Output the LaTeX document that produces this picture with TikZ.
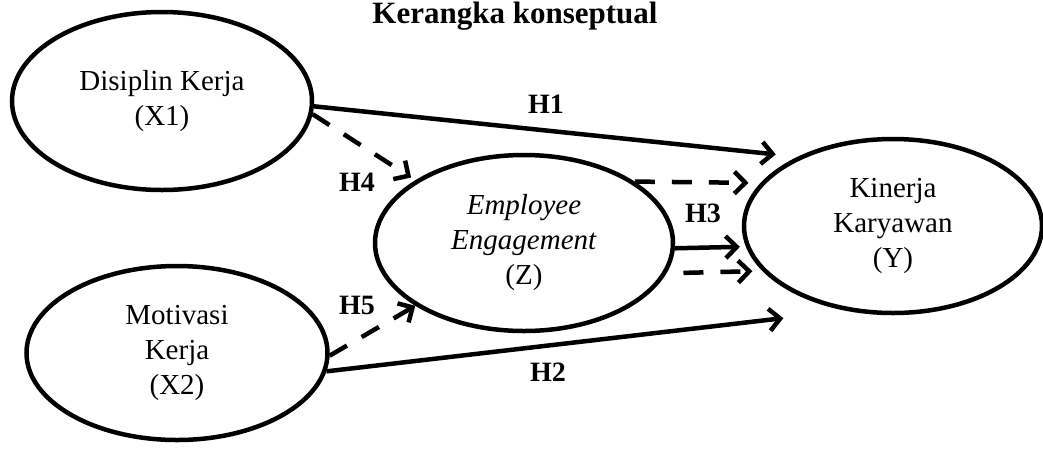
\documentclass[tikz,border=0pt]{standalone}
\usepackage{fontspec}
\setmainfont{Liberation Serif}
\usetikzlibrary{arrows.meta,shapes.geometric}
\begin{document}
\begin{tikzpicture}[x=1pt,y=-1pt,
  ell/.style={ellipse, draw, line width=4.5pt, align=center, inner sep=0pt,
    font=\fontsize{29}{35}\selectfont},
  hyp/.style={font=\bfseries\fontsize{28}{34}\selectfont, anchor=base, inner sep=0pt},
  solidarr/.style={line width=4.5pt, -{Straight Barb[length=11pt,width=22pt]}},
  dasharr/.style={solidarr, dash pattern=on 20pt off 17pt}]
\useasboundingbox (0,0) rectangle (1043,448);

\node[anchor=base, inner sep=0pt, font=\bfseries\fontsize{31}{37}\selectfont] (title) at (515,23) {Kerangka konseptual};

\node[ell, minimum width=300pt, minimum height=178pt] (X1) at (162,101) {Disiplin Kerja\\(X1)};
\node[ell, minimum width=301pt, minimum height=174pt] (X2) at (177,353) {Motivasi\\Kerja\\(X2)};
\node[ell, minimum width=298pt, minimum height=176pt] (Z) at (524,243) {\textit{Employee}\\\textit{Engagement}\\(Z)};
\node[ell, minimum width=298pt, minimum height=174pt] (Y) at (893,226) {Kinerja\\Karyawan\\(Y)};

\draw[solidarr, shorten >=22pt] (X1.-2) -- (Y.144);
\draw[dasharr, shorten >=5pt] (X1.-5) -- (Z.150);
\draw[dasharr, shorten >=12pt] (Z.29) -- (Y.162);
\draw[solidarr, shorten >=6pt] (Z.-2) -- (Y.188);
\draw[dasharr, dash phase=20pt, shorten >=10pt] (Z.-12) -- (Y.199);
\draw[dasharr] (X2.-1) -- (Z.210);
\draw[solidarr, shorten >=63pt] (X2.-7) -- (Y.241);

\node[hyp] (H1) at (546,113) {H1};
\node[hyp] (H4) at (357,191) {H4};
\node[hyp] (H3) at (703,222) {H3};
\node[hyp] (H5) at (357,314) {H5};
\node[hyp] (H2) at (548,381) {H2};
\end{tikzpicture}
\end{document}
